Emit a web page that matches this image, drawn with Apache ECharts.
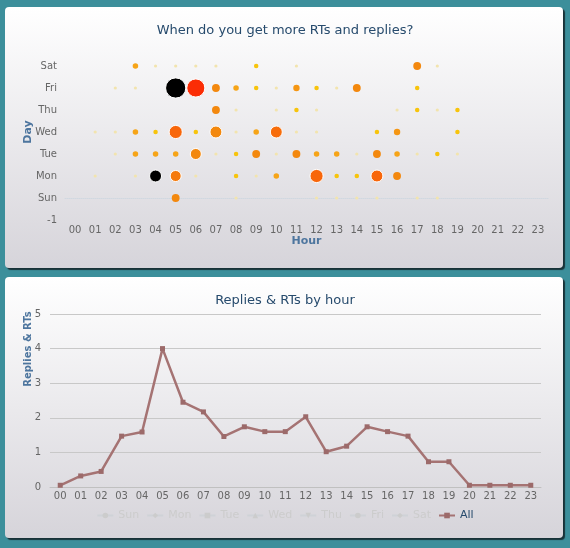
<!DOCTYPE html>
<html>
<head>
<meta charset="utf-8">
<script src="https://cdn.jsdelivr.net/npm/echarts@6/dist/echarts.min.js"></script>
<style>
html,body{margin:0;padding:0;background:#3c8f9b;}
#c{width:570px;height:548px;}
</style>
</head>
<body>
<div id="c"></div>
<script>
const hours = ['00','01','02','03','04','05','06','07','08','09','10','11','12','13','14','15','16','17','18','19','20','21','22','23'];
const days = ['Sun','Mon','Tue','Wed','Thu','Fri','Sat'];

// bubble size: number of replies & RTs per day/hour (0 = no bubble)
const countSun = [0,0,0,0,0,6,0,0,1,0,0,0,1,1,1,1,0,1,1,0,0,0,0,0];
const countMon = [0,1,0,1,14,12,1,0,2,1,3,0,17,2,2,14,6,0,0,0,0,0,0,0];
const countTue = [0,0,1,3,3,3,12,1,2,6,1,6,3,3,1,6,3,1,2,1,0,0,0,0];
const countWed = [0,1,1,3,2,17,2,14,1,3,14,1,1,0,0,2,4,0,0,2,0,0,0,0];
const countThu = [0,0,0,0,0,0,0,6,1,0,1,2,1,0,0,0,1,2,1,2,0,0,0,0];
const countFri = [0,0,1,1,0,40,32,6,3,2,1,4,2,1,6,0,0,2,0,0,0,0,0,0];
const countSat = [0,0,0,3,1,1,1,1,0,2,0,1,0,0,0,0,0,6,1,0,0,0,0,0];

// bubble colour intensity (0 pale … 6 black)
const levelSun = [0,0,0,0,0,3,0,0,0,0,0,0,0,0,0,0,0,0,0,0,0,0,0,0];
const levelMon = [0,0,0,0,6,3.4,0,0,1,0,2,0,4,1,1,4,3,0,0,0,0,0,0,0];
const levelTue = [0,0,0,2,2,2,3,0,1,3,0,3,2,2,0,3,2,0,1,0,0,0,0,0];
const levelWed = [0,0,0,2,1,4,1,3,0,2,3.8,0,0,0,0,1,2.5,0,0,1,0,0,0,0];
const levelThu = [0,0,0,0,0,0,0,3,0,0,0,1,0,0,0,0,0,1,0,1,0,0,0,0];
const levelFri = [0,0,0,0,0,6,5,3,2,1,0,2.5,1,0,3,0,0,1,0,0,0,0,0,0];
const levelSat = [0,0,0,2,0,0,0,0,0,1,0,0,0,0,0,0,0,3,0,0,0,0,0,0];

// replies & RTs by hour (All)
const allByHour = [0.05,0.32,0.45,1.47,1.59,4.0,2.45,2.17,1.46,1.74,1.6,1.6,2.03,1.02,1.18,1.74,1.6,1.47,0.73,0.73,0.05,0.05,0.05,0.05];

const yTicks = {'-1':'-1','0':'Sun','1':'Mon','2':'Tue','3':'Wed','4':'Thu','5':'Fri','6':'Sat','7':''};

const counts = [countSun,countMon,countTue,countWed,countThu,countFri,countSat];
const levels = [levelSun,levelMon,levelTue,levelWed,levelThu,levelFri,levelSat];
const smallBubbles = [], bigBubbles = [];
counts.forEach((row, d) => row.forEach((c, h) => {
  if (c > 0) (c >= 10 ? bigBubbles : smallBubbles).push([h, d, c, levels[d][h]]);
}));

const FONT = 'DejaVu Sans';
const chart = echarts.init(document.getElementById('c'));

const daySymbols = ['circle','diamond','rect','triangle','path://M0,0 L10,0 L5,10 Z','circle','diamond'];
const daySeries = days.map((d, i) => ({
  name: d, type: 'line', xAxisIndex: 1, yAxisIndex: 1,
  symbol: daySymbols[i], symbolSize: 6, data: [], color: '#888'
}));
const legendSel = {};
days.forEach(d => legendSel[d] = false);

chart.setOption({
  backgroundColor: '#3c8f9b',
  textStyle: {fontFamily: FONT},
  graphic: {
    elements: [
      {type:'rect', z:-10, shape:{x:5,y:7,width:558,height:261,r:4},
       style:{fill:new echarts.graphic.LinearGradient(0,0,0,1,[{offset:0,color:'#ffffff'},{offset:1,color:'#d6d4da'}]),
              shadowColor:'rgba(20,40,45,0.9)',shadowOffsetX:2,shadowOffsetY:2,shadowBlur:1}},
      {type:'rect', z:-10, shape:{x:5,y:277,width:558,height:261,r:4},
       style:{fill:new echarts.graphic.LinearGradient(0,0,0,1,[{offset:0,color:'#ffffff'},{offset:1,color:'#d6d4da'}]),
              shadowColor:'rgba(20,40,45,0.9)',shadowOffsetX:2,shadowOffsetY:2,shadowBlur:1}},
      {type:'text', x:28, y:349, rotation:Math.PI/2,
       style:{text:'Replies & RTs', fill:'#4d759e', font:'bold 10px "DejaVu Sans"', textAlign:'center', textVerticalAlign:'middle'}}
    ]
  },
  title: [
    {text:'When do you get more RTs and replies?', left:'center', top:19,
     textStyle:{color:'#274b6d', fontSize:13, fontWeight:'normal', fontFamily:FONT}},
    {text:'Replies & RTs by hour', left:'center', top:289,
     textStyle:{color:'#274b6d', fontSize:13, fontWeight:'normal', fontFamily:FONT}}
  ],
  grid: [
    {left:65, width:483, top:44, height:176},
    {left:50, width:491, top:314, height:173}
  ],
  visualMap: {
    show:false, seriesIndex:[0,1], dimension:3, min:0, max:6,
    inRange:{color:['#f2e4ae','#f7c40c','#f6a417','#f3880e','#f8660a','#fb2d05','#000000']}
  },
  legend: {
    data: days.concat(['All']), selected: legendSel, bottom: 22, left:'center',
    itemWidth: 16, itemHeight: 7, itemGap: 7, inactiveColor:'#cccccc',
    textStyle:{fontSize:11, color:'#274b6d', fontFamily:FONT}
  },
  xAxis: [
    {gridIndex:0, type:'category', data:hours, boundaryGap:true,
     axisLine:{lineStyle:{color:'#d0d8e0', type:'dotted'}}, axisTick:{show:false},
     axisLabel:{color:'#666', fontSize:10, margin:5},
     name:'Hour', nameLocation:'middle', nameGap:16, nameMoveOverlap:false,
     nameTextStyle:{color:'#4d759e', fontWeight:'bold', fontSize:11}},
    {gridIndex:1, type:'category', data:hours, boundaryGap:true,
     axisLine:{lineStyle:{color:'#c0c0c0'}}, axisTick:{show:false},
     axisLabel:{color:'#666', fontSize:10, margin:4}}
  ],
  yAxis: [
    {gridIndex:0, type:'value', min:-1, max:7, interval:1,
     axisLine:{show:false}, axisTick:{show:false}, splitLine:{show:false},
     axisLabel:{color:'#666', fontSize:10, margin:8, formatter:v => yTicks[String(v)]},
     name:'Day', nameLocation:'middle', nameGap:31, nameMoveOverlap:false,
     nameTextStyle:{color:'#4d759e', fontWeight:'bold', fontSize:11}},
    {gridIndex:1, type:'value', min:0, max:5, interval:1,
     axisLine:{show:false}, axisTick:{show:false},
     splitLine:{lineStyle:{color:'#c8c8c8', width:1}},
     axisLabel:{color:'#666', fontSize:10, margin:9}}
  ],
  series: [
    {type:'scatter', xAxisIndex:0, yAxisIndex:0, data:smallBubbles,
     symbolSize: v => 3.2*Math.sqrt(v[2]),
     itemStyle:{opacity:1}, z:3},
    {type:'scatter', xAxisIndex:0, yAxisIndex:0, data:bigBubbles,
     symbolSize: v => 3.2*Math.sqrt(v[2]),
     itemStyle:{opacity:1, borderColor:'#ffffff', borderWidth:1}, z:4}
  ].concat(daySeries).concat([
    {name:'All', type:'line', xAxisIndex:1, yAxisIndex:1, data:allByHour,
     color:'#a57373', symbol:'rect', symbolSize:5,
     lineStyle:{width:2.5, color:'#a57373'}, itemStyle:{color:'#9c6a6a'}}
  ])
});
</script>
</body>
</html>
